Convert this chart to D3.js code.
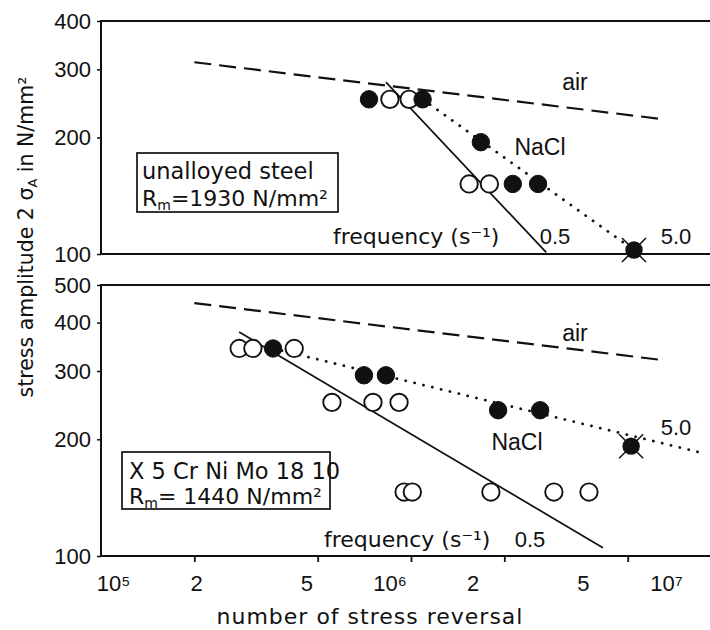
<!DOCTYPE html>
<html>
<head>
<meta charset="utf-8">
<script src="https://cdn.jsdelivr.net/npm/d3@7"></script>
<style>
  html, body { margin: 0; padding: 0; background: #fff; }
  svg { display: block; }
  text { fill: #111; }
</style>
</head>
<body>
<svg id="chart" width="710" height="630"></svg>
<script>
// ---------- data (N = number of stress reversals, S = stress amplitude N/mm²) ----------
const xTickValues = [1e5, 2e5, 5e5, 1e6, 2e6, 5e6, 1e7];
const xTickLabels = ["10⁵", "2", "5", "10⁶", "2", "5", "10⁷"];
const yTicksTop = [100, 200, 300, 400];
const yTicksBottom = [100, 200, 300, 400, 500];

// top panel: unalloyed steel
const steelAir = [[2e5, 313], [6.5e6, 223]];
const steelLine05 = [[8.3e5, 278], [2.73e6, 101]];
const steelLine50 = [[1.09e6, 251], [5.24e6, 102.4]];
const steelOpen = [[8.55e5, 251], [9.86e5, 251], [1.54e6, 151.7], [1.79e6, 151.7]];
const steelFilled = [[7.32e5, 251], [1.09e6, 251], [1.68e6, 194.5], [2.13e6, 151.7], [2.57e6, 151.7]];
const steelCrossed = [[5.24e6, 102.4]];

// bottom panel: X 5 CrNiMo 18 10
const crniAir = [[2e5, 449], [6.5e6, 320]];
const crniLine05 = [[2.79e5, 378], [4.16e6, 105]];
const crniLine50 = [[3.59e5, 343], [8.8e6, 184]];
const crniOpen = [[2.79e5, 343], [3.09e5, 343], [4.2e5, 343], [5.56e5, 249], [7.54e5, 249], [9.15e5, 249],
                  [9.5e5, 146.2], [1.01e6, 146.2], [1.81e6, 146.2], [2.89e6, 146.2], [3.75e6, 146.2]];
const crniFilled = [[3.59e5, 343], [7.05e5, 292.5], [8.3e5, 292.5], [1.91e6, 237.7], [2.61e6, 237.7]];
const crniCrossed = [[5.13e6, 192]];

// ---------- layout ----------
const svg = d3.select("#chart");
const left = 101, rightFrame = 735;
const x = d3.scaleLog().domain([1e5, 1e7]).range([left, 721]);
const xLabel = d3.scaleLog().domain([1e5, 1e7]).range([113, 666]);
const yTop = d3.scaleLog().domain([100, 400]).range([254, 21]);
const yBot = d3.scaleLog().domain([100, 500]).range([556, 285]);

const sansFont = "'Liberation Sans', Arial, sans-serif";
const drawFont = "'DejaVu Sans', sans-serif";

function panel(y, ticks, d) {
  const g = svg.append("g");
  const [y0, y1] = y.range();
  g.append("rect").attr("x", left).attr("y", y1).attr("width", rightFrame - left).attr("height", y0 - y1)
    .attr("fill", "none").attr("stroke", "#111").attr("stroke-width", 2);
  const ax = g.append("g").attr("transform", `translate(${left},0)`)
    .call(d3.axisLeft(y).tickValues(ticks).tickFormat(d3.format("d")).tickSize(4).tickPadding(6));
  ax.select(".domain").remove();
  ax.selectAll(".tick line").attr("stroke", "#111").attr("stroke-width", 1.5);
  ax.selectAll(".tick text").attr("font-family", sansFont).attr("font-size", 22).attr("fill", "#111");

  const line = d3.line().x(p => x(p[0])).y(p => y(p[1]));
  g.append("path").datum(d.air).attr("d", line).attr("fill", "none").attr("stroke", "#111")
    .attr("stroke-width", 2.2).attr("stroke-dasharray", "17,8");
  g.append("path").datum(d.l05).attr("d", line).attr("fill", "none").attr("stroke", "#111")
    .attr("stroke-width", 1.7);
  g.append("path").datum(d.l50).attr("d", line).attr("fill", "none").attr("stroke", "#111")
    .attr("stroke-width", 2.8).attr("stroke-linecap", "round").attr("stroke-dasharray", "0.1,9");

  const r = 8.7;
  g.selectAll("circle.open").data(d.open).join("circle").attr("class", "open")
    .attr("cx", p => x(p[0])).attr("cy", p => y(p[1])).attr("r", r)
    .attr("fill", "#fff").attr("stroke", "#111").attr("stroke-width", 1.9);
  g.selectAll("circle.filled").data(d.filled).join("circle").attr("class", "filled")
    .attr("cx", p => x(p[0])).attr("cy", p => y(p[1])).attr("r", r)
    .attr("fill", "#111").attr("stroke", "#111").attr("stroke-width", 1);
  const cg = g.selectAll("g.crossed").data(d.crossed).join("g").attr("class", "crossed")
    .attr("transform", p => `translate(${x(p[0])},${y(p[1])})`);
  cg.append("circle").attr("r", r).attr("fill", "#111");
  cg.append("path").attr("d", "M-12,-12L12,12M-12,12L12,-12").attr("stroke", "#111").attr("stroke-width", 1.5);
  return g;
}

panel(yTop, yTicksTop, {
  air: steelAir, l05: steelLine05, l50: steelLine50,
  open: steelOpen, filled: steelFilled, crossed: steelCrossed
});
panel(yBot, yTicksBottom, {
  air: crniAir, l05: crniLine05, l50: crniLine50,
  open: crniOpen, filled: crniFilled, crossed: crniCrossed
});

// bottom x axis: tick marks
const xa = svg.append("g").attr("transform", `translate(0,${yBot.range()[0]})`)
  .call(d3.axisBottom(x).tickValues(xTickValues.filter(v => v > 1e5 && v < 1e7)).tickSize(6).tickFormat(""));
xa.select(".domain").remove();
xa.selectAll(".tick line").attr("stroke", "#111").attr("stroke-width", 1.8);

// bottom x axis: labels (as placed in the reference)
const xl = svg.append("g").attr("transform", `translate(0,${yBot.range()[0]})`)
  .call(d3.axisBottom(xLabel).tickValues(xTickValues).tickSize(0).tickPadding(19)
    .tickFormat((v, i) => xTickLabels[i]));
xl.select(".domain").remove();
xl.selectAll(".tick text").attr("font-family", sansFont).attr("font-size", 22).attr("fill", "#111");

// axis titles
svg.append("text").attr("x", 370).attr("y", 624).attr("text-anchor", "middle")
  .attr("font-family", drawFont).attr("font-size", 22).attr("letter-spacing", 1).text("number of stress reversal");

const yt = svg.append("text").attr("transform", "translate(33,237) rotate(-90)")
  .attr("text-anchor", "middle").attr("font-family", drawFont).attr("font-size", 20.5);
yt.append("tspan").text("stress amplitude 2 σ");
yt.append("tspan").attr("font-size", 13).attr("dy", 4).text("A");
yt.append("tspan").attr("dy", -4).text(" in N/mm²");

// annotations
function label(tx, ty, str, font, size, anchor) {
  return svg.append("text").attr("x", tx).attr("y", ty).attr("text-anchor", anchor || "middle")
    .attr("font-family", font).attr("font-size", size).text(str);
}
label(575, 90, "air", sansFont, 23);
label(540, 155, "NaCl", sansFont, 23);
label(555, 244, "0.5", sansFont, 22);
label(676, 244, "5.0", sansFont, 22);
label(333, 244, "frequency (s⁻¹)", drawFont, 22, "start");

label(575, 341, "air", sansFont, 23);
label(517, 450, "NaCl", sansFont, 23);
label(676, 435, "5.0", sansFont, 22);
label(530, 547, "0.5", sansFont, 22);
label(324, 547, "frequency (s⁻¹)", drawFont, 22, "start");

// material boxes
function box(bx, by, bw, bh, line1, rm, tx, b1, b2) {
  svg.append("rect").attr("x", bx).attr("y", by).attr("width", bw).attr("height", bh)
    .attr("fill", "#fff").attr("stroke", "#111").attr("stroke-width", 1.7);
  svg.append("text").attr("x", tx).attr("y", b1).attr("font-family", drawFont).attr("font-size", 22.5).text(line1);
  const t = svg.append("text").attr("x", tx).attr("y", b2).attr("font-family", drawFont).attr("font-size", 22);
  t.append("tspan").text("R");
  t.append("tspan").attr("font-size", 14).attr("dy", 4).text("m");
  t.append("tspan").attr("dy", -4).text(rm);
}
box(137, 153, 201, 59, "unalloyed steel", "=1930 N/mm²", 142, 179, 206);
box(122, 452, 208, 57, "X 5 Cr Ni Mo 18 10", "= 1440 N/mm²", 129, 479, 504);
</script>
</body>
</html>
